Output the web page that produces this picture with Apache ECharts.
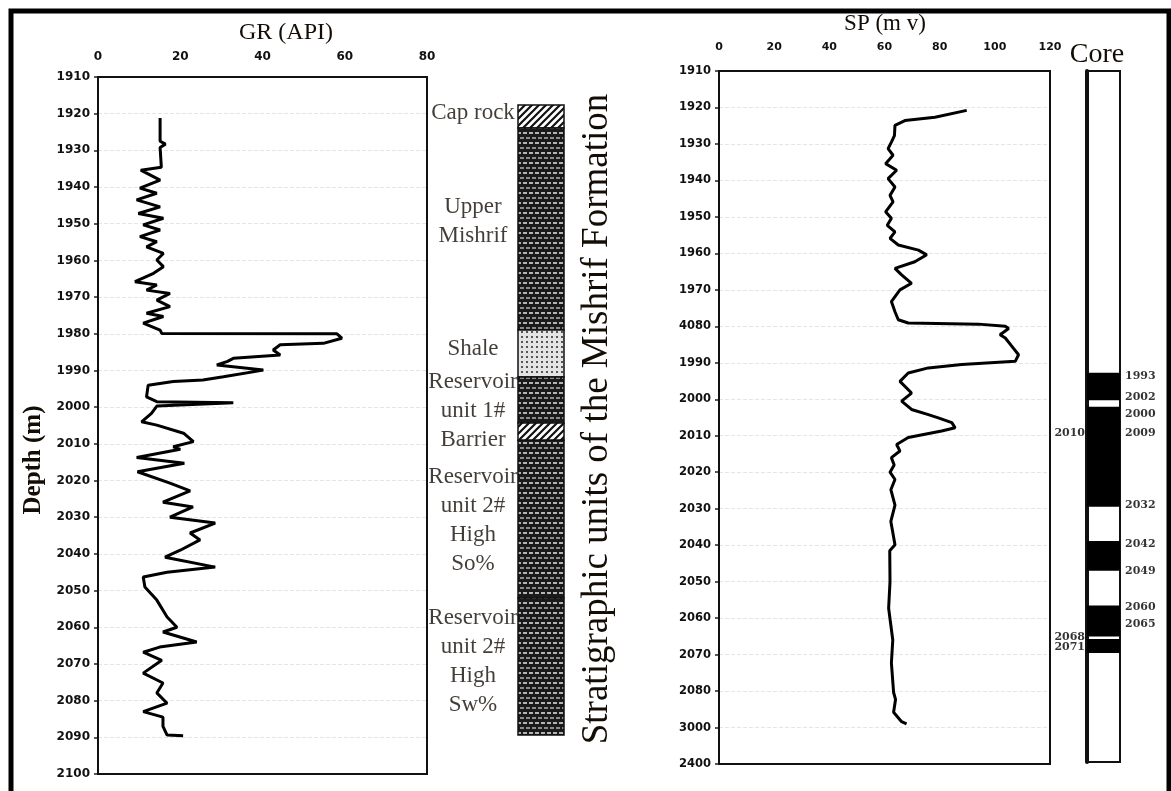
<!DOCTYPE html>
<html><head><meta charset="utf-8">
<script src="https://cdn.jsdelivr.net/npm/echarts@6/dist/echarts.min.js"></script>
<style>html,body{margin:0;padding:0;background:#fff}#c{width:1171px;height:791px}</style>
</head><body><div id="c"></div><script>
// ---------- data ----------
const grTickLabels = ['0','20','40','60','80'];
const spTickLabels = ['0','20','40','60','80','100','120'];
const grDepthLabels = ['1910','1920','1930','1940','1950','1960','1970','1980','1990','2000','2010','2020','2030','2040','2050','2060','2070','2080','2090','2100'];
const spDepthLabels = ['1910','1920','1930','1940','1950','1960','1970','4080','1990','2000','2010','2020','2030','2040','2050','2060','2070','2080','3000','2400'];

// GR (API) vs depth (m)
const grValues = [15.1,15.1,16.4,15.1,15.4,10.4,15.1,10.2,14.3,9.4,15.1,9.8,15.9,11,15.1,10.2,14.3,11.8,15.9,14.3,15.9,13.5,9,14.3,11.8,17.5,14.3,17.5,11.8,15.9,11,15.1,15.5,58.1,59.3,54.8,44.3,42.6,44.3,32.9,31.5,28.9,40.2,30.5,25.5,18.3,12.2,11.8,14.3,32.9,14.3,13,10.6,14.3,20.8,23.2,18.3,20,9.4,21,9.6,17.5,22.4,15.8,23.1,17.5,28.5,22.4,24.8,20,16.3,28.5,16.8,11,11.4,14.3,16.8,19.2,15.8,24,15,11,15.5,11,15.8,14.3,16.8,11,15.8,15.8,16.8,20.7];
const grDepths = [1921.2,1927.5,1928.3,1929.2,1934.6,1935.4,1938.1,1940.3,1941.7,1943.5,1945.4,1947.2,1948.5,1950.3,1951.7,1953.5,1954.9,1956.3,1958.1,1959.9,1961.7,1963.5,1965.8,1966.7,1968.1,1969,1970.8,1972.6,1974.4,1975.3,1977.1,1979,1979.9,1980,1981.2,1982.6,1983,1984.4,1985.8,1986.7,1987.5,1988.5,1989.9,1991.7,1992.6,1993,1994,1997.2,1998.5,1998.8,1999.7,2001.7,2004,2004.9,2007.1,2009.4,2010.8,2011.5,2013.7,2015.3,2017.6,2020.7,2022.8,2025.9,2027.2,2030,2031.6,2034.3,2036.2,2039,2040.9,2043.6,2045,2046.3,2049,2052.6,2057.2,2060,2061.3,2064,2065.4,2066.8,2069,2072.5,2075.2,2077.9,2080.7,2083,2084.5,2087,2089.4,2089.6];

// SP (mv) vs depth (m)
const spValues = [89.8,78.3,67.4,63.8,63.6,62.5,61.3,63.1,60.4,64.4,61.3,63.8,62,63.1,60.4,62.5,61,63.8,62,65,72.3,75.3,71,63.8,66.2,69.8,65.6,62.5,63.8,65,68.6,94.1,103.8,105,101.9,103.8,106.2,108.6,107.4,88,75.9,68.6,65.6,69.8,66.2,69.8,75.9,79.5,84.4,85.6,80.7,68.6,64.4,65.6,62.5,63.5,62,63.8,62.3,63.8,62.3,63.8,61.9,62,61.5,63,62.5,63.3,64,63.3,66.2,68];
const spDepths = [1920.8,1922.7,1923.6,1924.9,1927.7,1929.5,1931.3,1933.1,1935.4,1937.2,1939.5,1941.8,1944.1,1945.9,1948.6,1950.4,1952.3,1954.1,1955.9,1957.7,1959.1,1960.4,1962.3,1964.1,1965.9,1968.2,1970,1973.2,1976,1978.2,1979.1,1979.4,1980,1980.6,1982.3,1983.2,1985.5,1987.8,1989.6,1990.5,1991.4,1992.8,1995.1,1998.3,2000.5,2002.8,2004.2,2005.1,2006.4,2007.8,2008.7,2010.5,2012.4,2014.2,2016,2018,2020,2022,2024.8,2029,2033.5,2039.9,2041.5,2050,2057.3,2066,2072.3,2080.4,2082.3,2085.8,2088.4,2089];

// Stratigraphic units of the Mishrif Formation
const stratNames = ['Cap rock','Upper Mishrif','Shale','Reservoir unit 1#','Barrier','Reservoir unit 2# High So%','Reservoir unit 2# High Sw%'];
const stratTop = [1917.6,1923.9,1979.0,1991.8,2004.3,2009.0,2052.0];
const stratBottom = [1923.9,1979.0,1991.8,2004.3,2009.0,2052.0,2089.4];
const stratKind = ['hatch','brick','dots','brick','hatch','brick','brick'];
const stratLabelText = ['Cap rock','Upper\nMishrif','Shale','Reservoir\nunit 1#\nBarrier','Reservoir\nunit 2#\nHigh\nSo%','Reservoir\nunit 2#\nHigh\nSw%'];
const stratLabelDepth = [1919.8,1949.4,1984.2,2000.9,2030.8,2069.4];

// Core intervals
const coreTop = [1993.0,2002.3,2039.2,2057.0,2066.2];
const coreBottom = [2000.5,2029.8,2047.4,2065.5,2070.0];
const coreRightText = ['1993','2002','2000','2009','2032','2042','2049','2060','2065'];
const coreRightDepth = [1993.9,1999.6,2004.3,2009.5,2029.4,2040.0,2047.4,2057.3,2062.2];
const coreLeftText = ['2010','2068','2071'];
const coreLeftDepth = [2009.7,2065.7,2068.5];

// ---------- patterns ----------
function makePattern(kind){
  const c = document.createElement('canvas');
  const g = c.getContext('2d');
  if(kind==='hatch'){
    c.width=7;c.height=7;
    g.fillStyle='#fff';g.fillRect(0,0,7,7);
    g.strokeStyle='#111';g.lineWidth=2.2;
    g.beginPath();g.moveTo(-1,8);g.lineTo(8,-1);g.moveTo(-2,2);g.lineTo(2,-2);g.moveTo(5,9);g.lineTo(9,5);g.stroke();
  } else if(kind==='dots'){
    c.width=5;c.height=5;
    g.fillStyle='#e4e4e4';g.fillRect(0,0,5,5);
    g.fillStyle='#555';g.fillRect(1,1,2,2);
  } else {
    c.width=12;c.height=10;
    g.fillStyle='#1a1a1a';g.fillRect(0,0,12,10);
    g.fillStyle='#b4b4b4';g.fillRect(1,2,4,2);g.fillRect(7,2,4,2);
    g.fillStyle='#8c8c8c';g.fillRect(4,7,4,2);g.fillRect(10,7,2,2);g.fillRect(0,7,2,2);
  }
  return {image:c, repeat:'repeat'};
}
const patterns = {hatch:makePattern('hatch'), dots:makePattern('dots'), brick:makePattern('brick')};

// ---------- chart ----------
const chart = echarts.init(document.getElementById('c'), null, {renderer:'canvas'});
const tickFont = {fontFamily:'DejaVu Sans', fontWeight:'bold', color:'#111'};
const serif = 'Liberation Serif';
const txtColor = '#140d06';

function depthAxis(grid, labels, size){
  return {
    gridIndex:grid, type:'value', inverse:true, min:1910, max:2100, interval:10,
    axisLine:{show:true, lineStyle:{color:'#111', width:2}},
    axisTick:{show:true, length:4, lineStyle:{color:'#222', width:1.5}},
    axisLabel:{show:true, margin:8, fontSize:size, ...tickFont,
      formatter: v => labels[Math.round((v-1910)/10)] || ''},
    splitLine:{show:true, showMinLine:false, showMaxLine:false, lineStyle:{color:'#e6e6dc', type:'dashed', width:1}}
  };
}

const option = {
  backgroundColor:'#fff',
  animation:false,
  grid:[
    {left:98, top:77, width:329, height:697, show:true, borderColor:'#111', borderWidth:2, z:3},
    {left:518, top:77, width:46, height:697},
    {left:719, top:71, width:331, height:693, show:true, borderColor:'#111', borderWidth:2, z:3},
    {left:1087, top:71, width:33, height:691, show:true, borderColor:'#111', borderWidth:2}
  ],
  xAxis:[
    {gridIndex:0, type:'value', position:'top', min:0, max:80, interval:20,
     axisLine:{show:false}, axisTick:{show:false}, splitLine:{show:false},
     axisLabel:{margin:14, fontSize:12, ...tickFont, formatter:v=>grTickLabels[Math.round(v/20)]}},
    {gridIndex:1, type:'value', min:0, max:1, show:false},
    {gridIndex:2, type:'value', position:'top', min:0, max:120, interval:20,
     axisLine:{show:false}, axisTick:{show:false}, splitLine:{show:false},
     axisLabel:{margin:18, fontSize:11, ...tickFont, formatter:v=>spTickLabels[Math.round(v/20)]}},
    {gridIndex:3, type:'value', min:0, max:1, show:false}
  ],
  yAxis:[
    depthAxis(0, grDepthLabels, 12),
    {gridIndex:1, type:'value', inverse:true, min:1910, max:2100, show:false},
    depthAxis(2, spDepthLabels, 11.5),
    {gridIndex:3, type:'value', inverse:true, min:1910, max:2100,
     axisLine:{show:true, lineStyle:{color:'#111', width:4}}, axisTick:{show:false}, axisLabel:{show:false}, splitLine:{show:false}}
  ],
  series:[
    {type:'line', name:'GR', xAxisIndex:0, yAxisIndex:0, showSymbol:false, symbol:'none',
     data: grValues.map((v,i)=>[v, grDepths[i]]), lineStyle:{color:'#000', width:3}, z:5},
    {type:'line', name:'SP', xAxisIndex:2, yAxisIndex:2, showSymbol:false, symbol:'none',
     data: spValues.map((v,i)=>[v, spDepths[i]]), lineStyle:{color:'#000', width:3}, z:5},
    {type:'custom', name:'Strat', xAxisIndex:1, yAxisIndex:1,
     data: stratTop.map((t,i)=>[0, t, stratBottom[i], i]),
     encode:{x:0, y:[1,2]},
     renderItem:(params, api)=>{
       const p1 = api.coord([0, api.value(1)]);
       const p2 = api.coord([1, api.value(2)]);
       const k = stratKind[api.value(3)];
       return {type:'rect', shape:{x:p1[0], y:p1[1], width:p2[0]-p1[0], height:p2[1]-p1[1]},
         style:{fill:patterns[k], stroke:'#111', lineWidth:1.5}};
     }},
    {type:'scatter', name:'StratLabels', xAxisIndex:1, yAxisIndex:1, symbolSize:0, silent:true,
     data: stratLabelText.map((t,i)=>({value:[0, stratLabelDepth[i]], label:{formatter:t}})),
     label:{show:true, position:[-45,0], align:'center', verticalAlign:'middle',
       fontFamily:serif, fontSize:23, lineHeight:29, color:txtColor}},
    {type:'custom', name:'Core', xAxisIndex:3, yAxisIndex:3,
     data: coreTop.map((t,i)=>[0, t, coreBottom[i]]),
     encode:{x:0, y:[1,2]},
     renderItem:(params, api)=>{
       const p1 = api.coord([0, api.value(1)]);
       const p2 = api.coord([1, api.value(2)]);
       return {type:'rect', shape:{x:p1[0], y:p1[1], width:p2[0]-p1[0], height:p2[1]-p1[1]},
         style:{fill:'#000'}};
     }},
    {type:'scatter', name:'CoreRight', xAxisIndex:3, yAxisIndex:3, symbolSize:0, silent:true,
     data: coreRightText.map((t,i)=>({value:[1, coreRightDepth[i]], label:{formatter:t}})),
     label:{show:true, position:[5,0], align:'left', verticalAlign:'middle',
       fontFamily:'DejaVu Serif', fontWeight:'bold', fontSize:11, color:'#000'}},
    {type:'scatter', name:'CoreLeft', xAxisIndex:3, yAxisIndex:3, symbolSize:0, silent:true,
     data: coreLeftText.map((t,i)=>({value:[0, coreLeftDepth[i]], label:{formatter:t}})),
     label:{show:true, position:[-2,0], align:'right', verticalAlign:'middle',
       fontFamily:'DejaVu Serif', fontWeight:'bold', fontSize:11, color:'#000'}}
  ],
  graphic:[
    {type:'rect', shape:{x:11, y:11, width:1158, height:800}, style:{fill:'none', stroke:'#000', lineWidth:5}, z:100},
    {type:'text', x:286, y:33, style:{text:'GR (API)', font:'24px "Liberation Serif"', fill:txtColor, align:'center', verticalAlign:'middle'}},
    {type:'text', x:885, y:24, style:{text:'SP (m v)', font:'23px "Liberation Serif"', fill:txtColor, align:'center', verticalAlign:'middle'}},
    {type:'text', x:1097, y:55, style:{text:'Core', font:'28px "Liberation Serif"', fill:txtColor, align:'center', verticalAlign:'middle'}},
    {type:'text', x:34, y:460, rotation:Math.PI/2, style:{text:'Depth (m)', font:'bold 25px "Liberation Serif"', fill:txtColor, align:'center', verticalAlign:'middle'}},
    {type:'text', x:597, y:419, rotation:Math.PI/2, style:{text:'Stratigraphic units of the Mishrif Formation', font:'37px "Liberation Serif"', fill:txtColor, align:'center', verticalAlign:'middle'}}
  ]
};
chart.setOption(option);
</script></body></html>
